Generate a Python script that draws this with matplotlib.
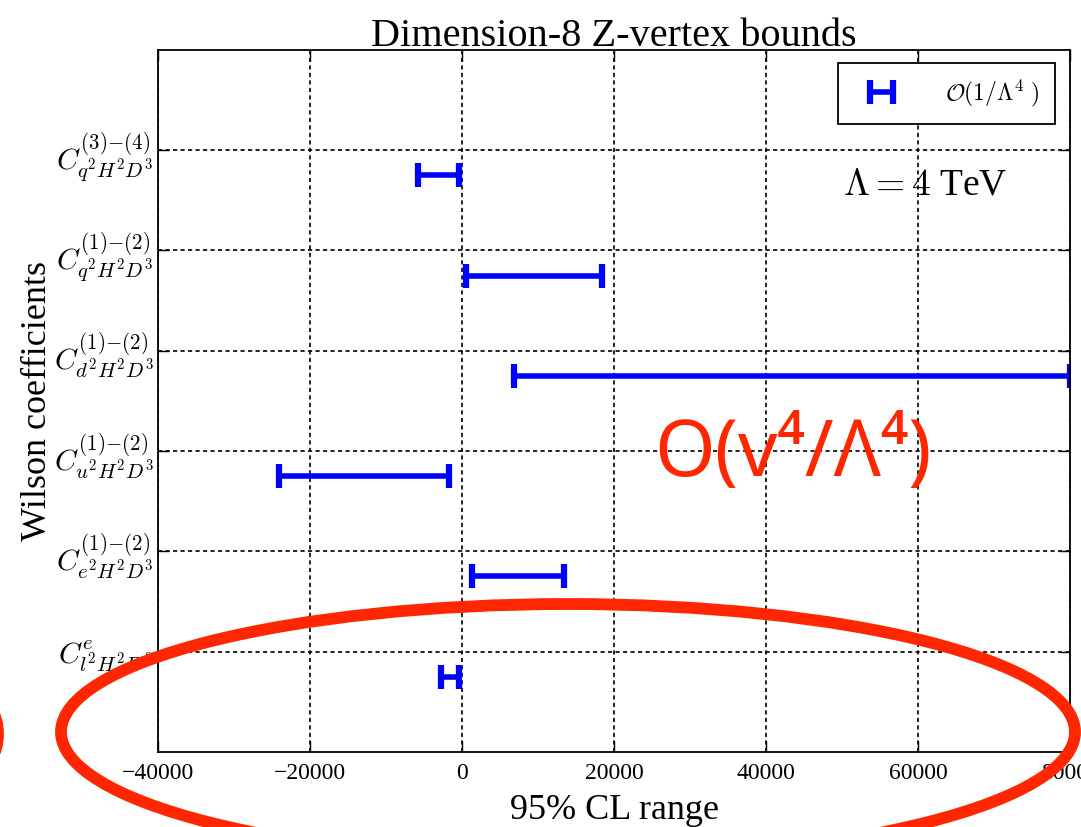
import numpy as np
import matplotlib
matplotlib.use('Agg')
import matplotlib.pyplot as plt
from matplotlib.patches import Ellipse

plt.rcParams['font.family'] = ['Liberation Serif', 'DejaVu Serif']
plt.rcParams['mathtext.fontset'] = 'cm'

# Wilson coefficient labels, bottom to top
labels = [r'$C^{e}_{l^2H^2D^3}$',
          r'$C^{(1){-}(2)}_{e^2H^2D^3}$',
          r'$C^{(1){-}(2)}_{u^2H^2D^3}$',
          r'$C^{(1){-}(2)}_{d^2H^2D^3}$',
          r'$C^{(1){-}(2)}_{q^2H^2D^3}$',
          r'$C^{(3){-}(4)}_{q^2H^2D^3}$']
# 95% CL intervals at Lambda = 4 TeV
lower = np.array([-2800, 1300, -24000, 6900, 500, -5800])
upper = np.array([-400, 13400, -1700, 80000, 18400, -400])

ticks = np.arange(1, len(labels) + 1)
center = (lower + upper) / 2
half = (upper - lower) / 2

fig = plt.figure(figsize=(10.81, 8.27), dpi=100)
ax = fig.add_axes([0.146, 0.0907, 0.844, 0.849])

ax.errorbar(center, ticks - 0.25, xerr=half, fmt='none', ecolor='blue',
            elinewidth=4, capsize=8.5, capthick=4.5,
            label=r'$\mathcal{O}(1/\Lambda^4\ )$')

ax.set_xlim(-40000, 80000)
ax.set_ylim(0, 7)
ax.set_xticks(np.arange(-40000, 80001, 20000))
ax.set_yticks(ticks)
ax.set_yticklabels(labels, fontsize=21.5)
ax.tick_params(axis='x', labelsize=17, pad=8)
ax.tick_params(axis='y', pad=3)
ax.tick_params(direction='in', length=8, width=1, top=True, right=True)
ax.grid(True, color='black', linestyle=(0, (2.5, 2)), linewidth=1.2)
for s in ax.spines.values():
    s.set_linewidth(1.3)

ax.set_title('Dimension-8 Z-vertex bounds', fontsize=29, pad=3)
ax.set_xlabel('95% CL range', fontsize=26, labelpad=7)
ax.set_ylabel('Wilson coefficients', fontsize=26, labelpad=0)
ax.text(61000, 5.65, r'$\Lambda=4$ TeV', fontsize=27, ha='center', va='center')

leg = ax.legend(loc='upper right', fontsize=17, fancybox=False,
                edgecolor='black', framealpha=1, borderpad=0.65,
                handlelength=2.4, handletextpad=1.5, borderaxespad=0,
                bbox_to_anchor=(0.9836, 0.982))
leg.get_frame().set_linewidth(1.3)

# red markup drawn over the whole figure
red = '#ff2600'
fig.text(0.605, 0.449, 'O(v⁴/Λ⁴)', color=red, fontsize=56,
         family=['Noto Sans', 'DejaVu Sans'], ha='left', va='center')
fig.patches.append(Ellipse((568 / 1081, 1 - 732 / 827), 1014 / 1081, 256 / 827,
                           transform=fig.transFigure, fill=False,
                           edgecolor=red, linewidth=8.5, zorder=10))
fig.patches.append(Ellipse((-26 / 1081, 1 - 734 / 827), 48 / 1081, 72 / 827,
                           transform=fig.transFigure, fill=False,
                           edgecolor=red, linewidth=8.5, zorder=10))

fig.savefig('out.png', dpi=100)
